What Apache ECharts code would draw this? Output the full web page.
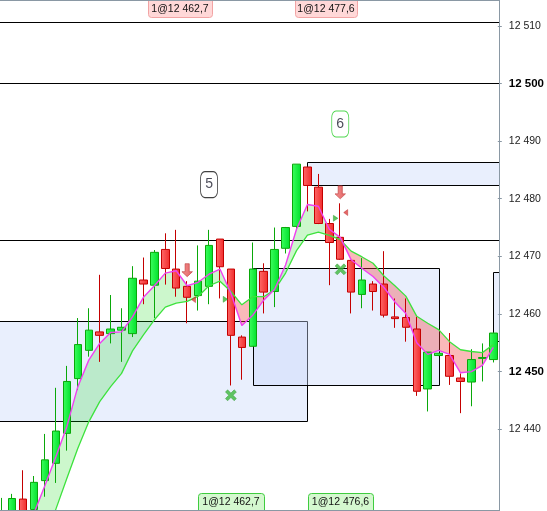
<!DOCTYPE html>
<html><head><meta charset="utf-8">
<script src="https://cdn.jsdelivr.net/npm/echarts@6/dist/echarts.min.js"></script>
<style>html,body{margin:0;padding:0;background:#fff}#c{width:547px;height:511px}</style>
</head><body><div id="c"></div>
<script>
// ---- data (candle index = x) ----
const opens  = [12422.0,12423.0,12427.9,12426.1,12431.1,12434.1,12439.3,12448.8,12453.7,12456.9,12456.6,12457.2,12456.6,12465.9,12465.0,12471.2,12467.8,12464.8,12463.2,12464.8,12473.0,12467.8,12456.0,12454.4,12467.4,12463.9,12471.4,12475.2,12485.5,12482.0,12475.7,12473.3,12469.3,12463.4,12465.2,12465.2,12459.5,12459.4,12457.4,12447.0,12452.8,12452.8,12448.9,12448.2,12452.3,12452.1];
const closes = [12425.0,12428.0,12424.0,12430.8,12434.7,12439.7,12448.3,12454.7,12457.2,12456.3,12457.4,12457.7,12466.2,12465.2,12470.7,12467.9,12464.5,12462.9,12465.7,12471.9,12468.2,12456.3,12454.2,12467.8,12463.8,12471.2,12475.0,12486.0,12482.3,12475.7,12472.4,12469.5,12463.8,12465.9,12463.9,12459.8,12459.2,12457.7,12446.6,12453.4,12453.2,12449.2,12448.3,12452.1,12452.45,12456.7];
const lows   = [12420.0,12421.0,12422.0,12425.5,12428.3,12430.7,12436.3,12446.8,12452.6,12451.7,12454.9,12451.7,12456.0,12461.7,12459.3,12465.1,12463.0,12458.4,12460.6,12461.7,12462.7,12447.6,12448.6,12454.4,12460.1,12461.2,12470.5,12474.7,12477.8,12475.6,12465.0,12469.4,12460.1,12461.0,12460.6,12459.4,12457.6,12455.2,12445.8,12443.1,12452.7,12447.7,12442.8,12444.0,12448.3,12451.6];
const highs  = [12428.1,12428.8,12432.9,12431.9,12439.2,12447.2,12451.0,12459.3,12461.0,12466.8,12463.3,12461.0,12468.3,12469.8,12471.1,12474.0,12474.6,12465.7,12471.9,12474.6,12473.0,12467.8,12456.3,12472.4,12468.8,12475.0,12475.1,12486.0,12485.5,12484.3,12476.5,12479.2,12469.4,12469.7,12465.7,12470.9,12462.7,12462.7,12459.5,12453.4,12453.2,12456.7,12449.7,12453.9,12454.9,12456.8];
const fastMA = [12413,12417,12421,12425.5,12430.3,12435.3,12440.5,12447.4,12452.0,12454.9,12456.8,12456.9,12459.5,12462.9,12464.9,12467.1,12467.5,12464.9,12465.5,12466.9,12467.8,12463.6,12458.0,12459.8,12462.4,12464.3,12468.5,12474.7,12479.0,12478.7,12474.7,12473.3,12469.4,12467.9,12466.5,12464.6,12462.1,12460.1,12455.0,12453.0,12453.7,12453.0,12449.8,12450.0,12451.1,12454.2];
const slowMA = [12400,12405,12410,12415.5,12420.8,12426.2,12431.5,12436.7,12441.3,12444.8,12447.4,12449.7,12453.6,12456.4,12459.0,12461.2,12461.9,12462.2,12463.05,12464.9,12465.7,12463.9,12461.6,12463.0,12463.0,12464.2,12467.1,12471.0,12473.7,12474.2,12473.65,12472.9,12470.9,12469.9,12468.8,12466.6,12464.9,12463.1,12459.6,12458.4,12457.3,12455.2,12453.8,12453.5,12453.3,12454.7];
// zones: [fromIndex, toIndex, top, bottom]
const zoneA = [-2, 28, 12458.73, 12441.39];
const zoneB = [23, 40, 12467.96, 12447.63];
const zoneC = [28, 48, 12486.31, 12482.32];
const zoneD = [45, 48, 12467.23, 12455.27];
const levels = [12510.6, 12500, 12472.8];
const sellArrows = [[17, 12467.6], [31, 12481.1]];
const redTriangles = [[17.58, 12462.5], [31.5, 12477.6]];
const greenTriangles = [[20.5, 12462.55], [30.58, 12476.6]];
const greenCrosses = [[21, 12445.9], [31.03, 12467.75]];
const waveLabels = [{name:'5', value:[19.0, 12482.46], border:'#111'}, {name:'6', value:[31.0, 12492.96], border:'#22cc22'}];
const yTickMin = 12440, yTickMax = 12510, yTickStep = 10;
const boldTicks = [12500, 12450];

const n = opens.length;
const idx = opens.map((_, i) => i);
const ohlc = idx.map(i => [i, opens[i], closes[i], lows[i], highs[i]]);

function fmt(v){ return String(v).replace(/\B(?=(\d{3})+(?!\d))/g, ' '); }

function buildRuns(){
  const runs = []; let cur = null;
  for (let i = 0; i < n; i++){
    const d = fastMA[i] - slowMA[i];
    const sign = d >= 0 ? 1 : -1;
    if (!cur){ cur = {sign, f:[[i, fastMA[i]]], s:[[i, slowMA[i]]]}; continue; }
    const dp = fastMA[i-1] - slowMA[i-1];
    if (sign !== cur.sign && d !== 0){
      const t = dp / (dp - d);
      const xc = i - 1 + t, yc = fastMA[i-1] + (fastMA[i] - fastMA[i-1]) * t;
      cur.f.push([xc, yc]); cur.s.push([xc, yc]); runs.push(cur);
      cur = {sign, f:[[xc, yc], [i, fastMA[i]]], s:[[xc, yc], [i, slowMA[i]]]};
    } else { cur.f.push([i, fastMA[i]]); cur.s.push([i, slowMA[i]]); }
  }
  runs.push(cur); return runs;
}
const runs = buildRuns();

const chart = echarts.init(document.getElementById('c'));
const FONT = '"Liberation Sans", Arial, sans-serif';

function tag(cx, y, w, h, text, fill, stroke, ty){
  return {type:'group', z:100, children:[
    {type:'rect', shape:{x:cx - w/2 + 0.5, y:y + 0.5, width:w, height:h, r:3}, style:{fill, stroke, lineWidth:1}},
    {type:'text', style:{text, x:cx, y:ty, align:'center', verticalAlign:'middle', font:'10.5px ' + FONT, fill:'#111'}}
  ]};
}

const option = {
  animation: false,
  grid: [
    {left: 0, right: 48, top: 0, bottom: 0},
    {left: 0, right: 48, top: 25.75, height: 403.55}
  ],
  xAxis: [
    {type:'value', min:-0.119, max:45.52, show:false, gridIndex:0},
    {type:'value', min:0, max:1, show:false, gridIndex:1}
  ],
  yAxis: [
    {type:'value', gridIndex:0, position:'right', min:12425.83, max:12514.47,
     axisLine:{show:true, onZero:false, lineStyle:{color:'#8a98a4', width:1}}, axisTick:{show:false}, axisLabel:{show:false}, splitLine:{show:false}},
    {type:'value', gridIndex:1, position:'right', min:yTickMin, max:yTickMax, interval:yTickStep,
     axisLine:{show:false, onZero:false}, axisTick:{show:true, length:4, lineStyle:{color:'#8a98a4'}}, splitLine:{show:false},
     axisLabel:{margin:11, fontFamily:FONT, fontSize:10.5, color:'#222',
       formatter: v => boldTicks.includes(v) ? '{b|' + fmt(v) + '}' : fmt(v),
       rich:{b:{fontFamily:FONT, fontSize:11.5, fontWeight:'bold', color:'#000'}}}}
  ],
  series: [
    {type:'custom', name:'zones', z:1, clip:true, xAxisIndex:0, yAxisIndex:0,
     data:[zoneA, zoneB, zoneC, zoneD], encode:{x:[0,1], y:[2,3]},
     renderItem:(params, api) => {
       const p1 = api.coord([api.value(0), api.value(2)]);
       const p2 = api.coord([api.value(1), api.value(3)]);
       const x1 = Math.round(p1[0]) + 0.5, y1 = Math.round(p1[1]) + 0.5;
       const x2 = Math.round(p2[0]) + 0.5, y2 = Math.round(p2[1]) + 0.5;
       return {type:'rect', shape:{x:x1, y:y1, width:x2-x1, height:y2-y1},
               style:{fill:'rgba(200,215,250,0.4)', stroke:'#000', lineWidth:1}};
     },
     markLine:{silent:true, symbol:'none', label:{show:false}, z:1,
       lineStyle:{color:'#000', width:1, type:'solid'}, data: levels.map(v => ({yAxis:v}))}
    },
    {type:'custom', name:'band', z:2, clip:true, data:[[0, fastMA[0]]], encode:{x:0, y:1},
     renderItem:(params, api) => ({type:'group', children: runs.map(r => ({
        type:'polygon',
        shape:{points: r.f.map(p => api.coord(p)).concat(r.s.slice().reverse().map(p => api.coord(p)))},
        style:{fill: r.sign > 0 ? 'rgba(0,215,0,0.2)' : 'rgba(240,60,60,0.36)'}
     }))})
    },
    {type:'candlestick', name:'price', z:3, data:ohlc, encode:{x:0, y:[1,2,3,4]}, barWidth:8,
     itemStyle:{
       color: new echarts.graphic.LinearGradient(0,0,1,0,[{offset:0,color:'#3dff5e'},{offset:1,color:'#00e02c'}]),
       color0: new echarts.graphic.LinearGradient(0,0,1,0,[{offset:0,color:'#ff6a6a'},{offset:1,color:'#f02a2a'}]),
       borderColor:'#0aa80a', borderColor0:'#c40000', borderWidth:1}
    },
    {type:'line', name:'slow', z:4, data: idx.map(i => [i, slowMA[i]]), symbol:'none', lineStyle:{color:'#3de23d', width:1.3}},
    {type:'line', name:'fast', z:4, data: idx.map(i => [i, fastMA[i]]), symbol:'none', lineStyle:{color:'#f040f0', width:1.4}},
    {type:'scatter', z:5, data:sellArrows, symbol:'path://M3,0 L7,0 L7,8 L10,8 L5,13 L0,8 L3,8 Z', symbolSize:[10.5,13],
     itemStyle:{color:new echarts.graphic.LinearGradient(0,0,1,0,[{offset:0,color:'#f07070'},{offset:1,color:'#dc4040'}]), borderColor:'#b83030', borderWidth:0.7}},
    {type:'scatter', z:5, data:redTriangles, symbol:'triangle', symbolSize:[6,4], symbolRotate:90,
     itemStyle:{color:'#e04040', borderColor:'#b02020', borderWidth:0.5}},
    {type:'scatter', z:5, data:greenTriangles, symbol:'triangle', symbolSize:[6,4.5], symbolRotate:-90,
     itemStyle:{color:'#36b836', borderColor:'#1f8f1f', borderWidth:0.5}},
    {type:'scatter', z:5, data:greenCrosses, symbol:'path://M2,0 L5,3 L8,0 L10,2 L7,5 L10,8 L8,10 L5,7 L2,10 L0,8 L3,5 L0,2 Z', symbolSize:11,
     itemStyle:{color:'#3cb83c', borderColor:'#2a922a', borderWidth:0.5}},
    {type:'scatter', z:6, symbol:'roundRect', symbolSize:[17,26],
     data: waveLabels.map(w => ({name:w.name, value:w.value, itemStyle:{color:'#fff', borderColor:w.border, borderWidth:1}})),
     label:{show:true, position:'inside', formatter:'{b}', fontFamily:FONT, fontSize:14, color:'#1a1a2a'}}
  ],
  graphic: [
    {type:'line', z:99, shape:{x1:0, y1:0.5, x2:499, y2:0.5}, style:{stroke:'#8a98a4', lineWidth:1}},
    {type:'line', z:99, shape:{x1:0, y1:510.5, x2:499, y2:510.5}, style:{stroke:'#8a98a4', lineWidth:1}},
    tag(180, -4, 64, 21, '1@12 462,7', '#ffd8d8', '#f2a4a4', 9),
    tag(326, -4, 62, 21, '1@12 477,6', '#ffd8d8', '#f2a4a4', 9),
    tag(231, 493, 66, 22, '1@12 462,7', '#d4f8cf', '#3fcc3f', 502),
    tag(340.5, 493, 65, 22, '1@12 476,6', '#d4f8cf', '#3fcc3f', 502)
  ]
};
chart.setOption(option);
</script>
</body></html>
